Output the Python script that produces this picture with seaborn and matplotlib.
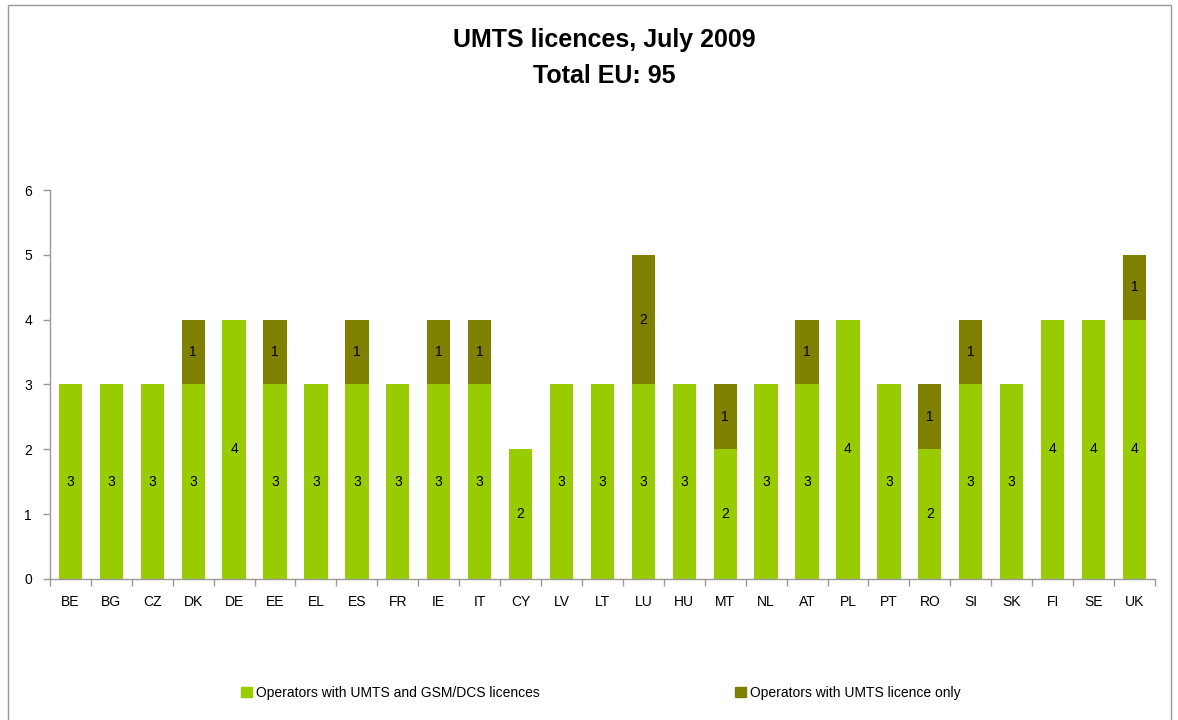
import numpy as np
import pandas as pd
import matplotlib.pyplot as plt
import matplotlib.patches as mpatches
import seaborn as sns

countries = ["BE", "BG", "CZ", "DK", "DE", "EE", "EL", "ES", "FR", "IE", "IT", "CY", "LV", "LT",
             "LU", "HU", "MT", "NL", "AT", "PL", "PT", "RO", "SI", "SK", "FI", "SE", "UK"]
umts_gsm = [3, 3, 3, 3, 4, 3, 3, 3, 3, 3, 3, 2, 3, 3, 3, 3, 2, 3, 3, 4, 3, 2, 3, 3, 4, 4, 4]
umts_only = [0, 0, 0, 1, 0, 1, 0, 1, 0, 1, 1, 0, 0, 0, 2, 0, 1, 0, 1, 0, 0, 1, 1, 0, 0, 0, 1]

green = "#99CC00"
olive = "#808000"

df = pd.DataFrame({"Country": countries, "Both": umts_gsm, "Only": umts_only})
df["Total"] = df["Both"] + df["Only"]

sns.set_style("white")
plt.rcParams["font.family"] = ["Liberation Sans", "DejaVu Sans"]
plt.rcParams["text.color"] = "black"
plt.rcParams["xtick.color"] = "black"
plt.rcParams["ytick.color"] = "black"

fig = plt.figure(figsize=(11.78, 7.2), dpi=100)
ax = fig.add_axes([0.0424, 0.196, 0.938, 0.540])

# stacked: totals first (olive), then the lower part on top (green)
sns.barplot(x="Country", y="Total", data=df, color=olive, width=0.57,
            saturation=1, ax=ax, order=countries, linewidth=0)
sns.barplot(x="Country", y="Both", data=df, color=green, width=0.57,
            saturation=1, ax=ax, order=countries, linewidth=0)

for i, row in df.iterrows():
    ax.text(i, row["Both"] / 2, str(row["Both"]), ha="center", va="center", fontsize=10)
    if row["Only"] > 0:
        ax.text(i, row["Both"] + row["Only"] / 2, str(row["Only"]),
                ha="center", va="center", fontsize=10)

ax.set_ylim(0, 6)
ax.set_xlim(-0.5, len(countries) - 0.5)
ax.set_yticks(range(0, 7))
ax.set_xlabel("")
ax.set_ylabel("")

# ticks between categories
ax.set_xticks(np.arange(-0.5, len(countries), 1), minor=True)
ax.tick_params(axis="x", which="major", bottom=False, labelsize=10, pad=8, labelcolor="black")
ax.tick_params(axis="x", which="minor", bottom=True, length=5, width=1,
               color="#999999", direction="out")
ax.tick_params(axis="y", which="major", left=True, length=5, width=1, color="#999999",
               direction="out", pad=8, labelsize=10, labelcolor="black")

for s in ["top", "right"]:
    ax.spines[s].set_visible(False)
for s in ["left", "bottom"]:
    ax.spines[s].set_color("#999999")
    ax.spines[s].set_linewidth(1)

fig.text(0.513, 0.945, "UMTS licences, July 2009", ha="center", va="center",
         fontsize=18, fontweight="bold", color="black")
fig.text(0.513, 0.895, "Total EU: 95", ha="center", va="center",
         fontsize=18, fontweight="bold", color="black")

handles = [mpatches.Patch(color=green, label="Operators with UMTS and GSM/DCS licences"),
           mpatches.Patch(color=olive, label="Operators with UMTS licence only")]
fig.legend(handles=handles, loc="center", bbox_to_anchor=(0.51, 0.038), ncol=2,
           frameon=False, fontsize=10, handlelength=0.8, handleheight=0.8,
           handletextpad=0.3, columnspacing=14)

fig.patches.append(mpatches.Rectangle((0.007, -0.01), 0.987, 1.003, transform=fig.transFigure,
                                      fill=False, edgecolor="#999999", linewidth=1))

fig.savefig("out.png", dpi=100)
